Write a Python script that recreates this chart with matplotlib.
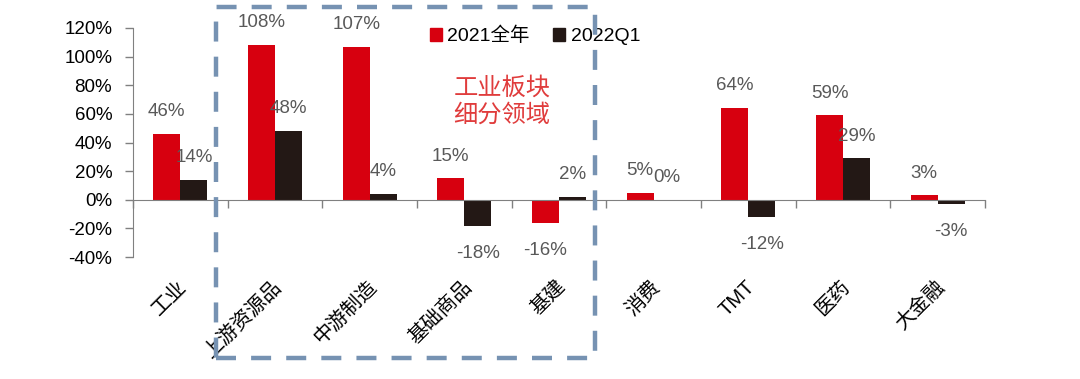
import matplotlib
matplotlib.use("Agg")
import matplotlib.pyplot as plt
import matplotlib.transforms as mtransforms
from matplotlib.patches import Rectangle, Patch
import numpy as np

plt.rcParams['font.family'] = ['Liberation Sans', 'Noto Sans CJK SC', 'DejaVu Sans']

categories = ['工业', '上游资源品', '中游制造', '基础商品', '基建', '消费', 'TMT', '医药', '大金融']
v2021 = [46, 108, 107, 15, -16, 5, 64, 59, 3]
v2022q1 = [14, 48, 4, -18, 2, 0, -12, 29, -3]
series_names = ['2021全年', '2022Q1']
yticks = [-40, -20, 0, 20, 40, 60, 80, 100, 120]

RED = '#d7000f'
BLACK = '#231815'
GRAY = '#808080'
LABEL = '#595959'

W, H = 1080, 379
fig = plt.figure(figsize=(W / 100, H / 100), dpi=100)
ax = fig.add_axes([133 / W, (H - 257) / H, (985 - 133) / W, (257 - 28) / H])

x = np.arange(len(categories))
bw = 0.285
b1 = ax.bar(x - bw / 2, v2021, bw, color=RED, label=series_names[0], zorder=3)
b2 = ax.bar(x + bw / 2, v2022q1, bw, color=BLACK, label=series_names[1], zorder=3)

for bars, vals in ((b1, v2021), (b2, v2022q1)):
    for rect, v in zip(bars, vals):
        cx = rect.get_x() + rect.get_width() / 2
        off = 16 if v >= 0 else -20
        ax.annotate(f'{v}%', (cx, v), xytext=(0, off), textcoords='offset points',
                    ha='center', va='center', fontsize=13.5, color=LABEL, zorder=5)

ax.set_xlim(-0.5, len(categories) - 0.5)
ax.set_ylim(-40, 120)
ax.set_yticks(yticks)
ax.set_yticklabels([f'{t}%' for t in yticks], fontsize=13.5, color='black')

for s in ['top', 'right']:
    ax.spines[s].set_visible(False)
ax.spines['left'].set_color(GRAY)
ax.spines['bottom'].set_color(GRAY)
ax.spines['bottom'].set_position(('data', 0))
ax.spines['bottom'].set_zorder(4)
ax.tick_params(axis='y', direction='out', length=6, width=1, color=GRAY, pad=9)
ax.set_xticks(np.arange(len(categories) + 1) - 0.5)
ax.set_xticklabels([])
ax.tick_params(axis='x', direction='out', length=6, width=1, color=GRAY)

trans = mtransforms.blended_transform_factory(ax.transData, ax.transAxes)
toff = mtransforms.offset_copy(trans, fig=fig, x=4, y=-27, units='dots')
for i, c in enumerate(categories):
    ax.text(i, 0, c, transform=toff, rotation=45, rotation_mode='anchor',
            ha='right', va='center', fontsize=14.5, color='black')

handles = [Patch(color=RED), Patch(color=BLACK)]
fig.legend(handles, series_names, loc='center', bbox_to_anchor=(535 / W, (H - 36) / H),
           ncol=2, frameon=False, fontsize=14, handlelength=0.6, handleheight=0.6,
           handletextpad=0.3, columnspacing=1.2)

fig.text(502 / W, (H - 102) / H, '工业板块\n细分领域', ha='center', va='center',
         fontsize=17.5, color='#e03c3c', linespacing=1.25)

rect = Rectangle((216 / W, (H - 358) / H), (595 - 216) / W, (358 - 7) / H,
                 transform=fig.transFigure, fill=False, edgecolor='#7692b2',
                 linewidth=3.2, linestyle=(0, (4.5, 3.4)), zorder=10)
fig.patches.append(rect)

fig.savefig('out.png', dpi=100)
